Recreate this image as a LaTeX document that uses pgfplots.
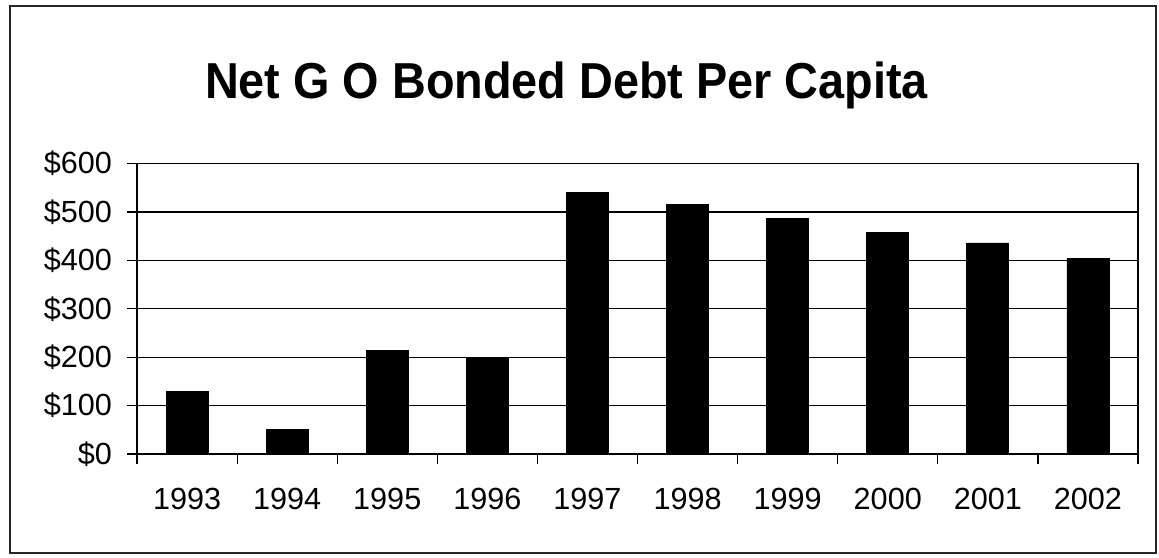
\documentclass[border=0pt]{standalone}
\usepackage{pgfplots}
\pgfplotsset{compat=1.18}
\usepackage{fontspec}
\setmainfont{Liberation Sans}
\begin{document}
\begin{tikzpicture}
\useasboundingbox (0,0) rectangle (579.5pt,-278.5pt);
\draw[black!85, line width=0.7pt] (5pt,-3pt) rectangle (578pt,-276.5pt);
\node[anchor=base, font=\fontsize{23.4}{28}\selectfont\bfseries, yscale=1.08] at (283.25pt,-49pt) {Net G O Bonded Debt Per Capita};
\begin{axis}[
  at={(68.5pt,-227pt)}, anchor=south west,
  scale only axis, width=500.5pt, height=145.25pt,
  xmin=0.5, xmax=10.5, ymin=0, ymax=600,
  axis line style={black, line width=0.6pt},
  xtick pos=bottom, ytick pos=left,
  xtick={0.5,1.5,...,10.5},
  xticklabels={1993,1994,1995,1996,1997,1998,1999,2000,2001,2002,{}},
  xticklabel style={xshift=25.025pt, anchor=north, yshift=-8.5pt},
  ytick={0,100,...,600},
  yticklabels={\$0,\$100,\$200,\$300,\$400,\$500,\$600},
  yticklabel style={anchor=east, xshift=-4pt},
  tick align=outside, major tick length=5pt,
  tick style={black, line width=0.6pt},
  ticklabel style={font=\fontsize{15.3}{18}\selectfont},
  ymajorgrids, grid style={black, line width=0.6pt},
]
\addplot[ybar, bar width=21pt, fill=black, draw=black] coordinates {
(1,130) (2,50) (3,213) (4,199) (5,540) (6,516) (7,486) (8,457) (9,436) (10,403)
};
\end{axis}
\end{tikzpicture}
\end{document}
